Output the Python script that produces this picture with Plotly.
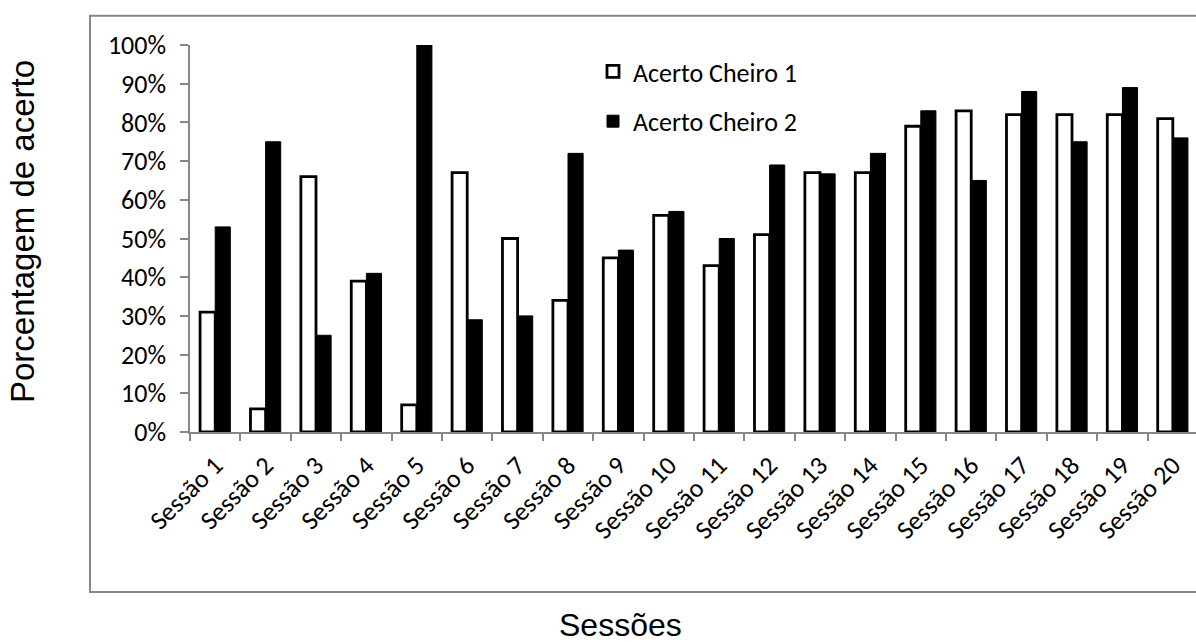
import plotly.graph_objects as go

sessions = [f"Sessão {i}" for i in range(1, 21)]
cheiro1 = [31, 6, 66, 39, 7, 67, 50, 34, 45, 56, 43, 51, 67, 67, 79, 83, 82, 82, 82, 81]
cheiro2 = [53, 75, 25, 41, 100, 29, 30, 72, 47, 57, 50, 69, 66.7, 72, 83, 65, 88, 75, 89, 76]
yticks = [0, 10, 20, 30, 40, 50, 60, 70, 80, 90, 100]

W, H = 1196, 643
PL, PT, PB = 190, 45, 432  # plot-area pixel edges
PR = W
pw, ph = PR - PL, PB - PT

def px(x):
    return (x - PL) / pw

def py(y):
    return (PB - y) / ph

TICKFONT = dict(family="Calibri, Carlito, Lato, sans-serif", size=26, color="black")
LEGFONT = dict(family="Calibri, Carlito, Lato, sans-serif", size=26, color="black")
GRAY = "#878787"

fig = go.Figure()
fig.add_trace(go.Bar(
    x=sessions, y=[v / 100 for v in cheiro1], name="Acerto Cheiro 1",
    marker=dict(color="white", line=dict(color="black", width=2.8)),
    legendgroup="a",
))
fig.add_trace(go.Bar(
    x=sessions, y=[v / 100 for v in cheiro2], name="Acerto Cheiro 2",
    marker=dict(color="black", line=dict(color="black", width=1)),
    legendgroup="b",
))

fig.update_layout(
    width=W, height=H,
    margin=dict(l=PL, r=0, t=PT, b=H - PB, pad=0),
    paper_bgcolor="white", plot_bgcolor="white",
    barmode="group", bargap=0.4, bargroupgap=0,
    showlegend=True,
    legend=dict(
        x=px(593), y=py(48), xanchor="left", yanchor="top",
        font=LEGFONT, bgcolor="rgba(0,0,0,0)",
        tracegroupgap=13, itemwidth=30,
    ),
    xaxis=dict(
        range=[-0.5, 19.46], tickangle=-45, tickfont=TICKFONT,
        showline=True, linecolor=GRAY, linewidth=1.5,
        ticks="outside", ticklen=7, tickcolor=GRAY, tickwidth=1.5,
        tickson="boundaries", showgrid=False, zeroline=False,
        ticklabelstandoff=6,
    ),
    yaxis=dict(
        range=[0, 1], tickvals=[v / 100 for v in yticks],
        ticktext=[f"{v}%" for v in yticks], tickfont=TICKFONT,
        showline=True, linecolor=GRAY, linewidth=1.5,
        ticks="outside", ticklen=8, tickcolor=GRAY, tickwidth=1.5,
        ticklabelstandoff=9,
        showgrid=False, zeroline=False,
    ),
    shapes=[dict(
        type="rect", xref="paper", yref="paper",
        x0=px(90), x1=px(W + 40), y0=py(592), y1=py(15.7),
        line=dict(color=GRAY, width=2), fillcolor="rgba(0,0,0,0)", layer="below",
    )],
    annotations=[
        dict(text="Porcentagem de acerto", xref="paper", yref="paper",
             x=px(22), y=py(232), xanchor="center", yanchor="middle",
             textangle=-90, showarrow=False,
             font=dict(family="Liberation Sans, Arial, sans-serif", size=33, color="black")),
        dict(text="Sessões", xref="paper", yref="paper",
             x=px(620), y=py(625), xanchor="center", yanchor="middle",
             showarrow=False,
             font=dict(family="Liberation Sans, Arial, sans-serif", size=32, color="black")),
    ],
)

fig.write_html("out.html")
